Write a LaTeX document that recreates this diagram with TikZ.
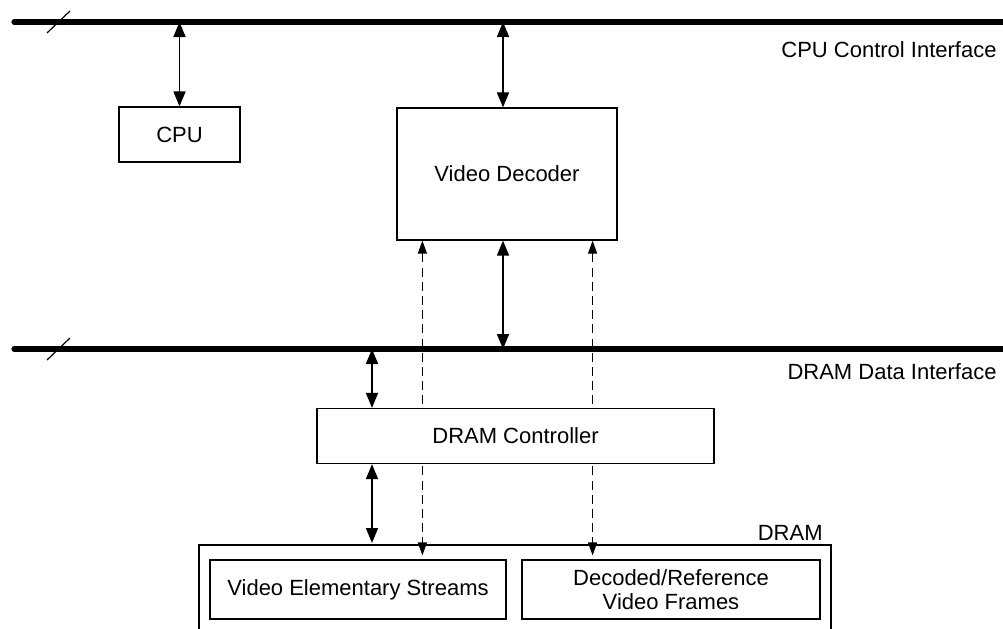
\documentclass[tikz,border=0pt]{standalone}
\usepackage{fontspec}
\setmainfont{Liberation Sans}
\usetikzlibrary{arrows.meta,positioning,calc,backgrounds}
\tikzset{
  unitbox/.style={
    rectangle, draw=black, fill=white, line width=0.6pt,
    font=\fontsize{11}{13}\selectfont, align=center, inner sep=0pt
  },
  busline/.style={line width=2.6pt, line cap=round},
  busslash/.style={line width=0.6pt},
  buslabel/.style={font=\fontsize{11}{13}\selectfont, anchor=east, inner sep=0pt},
  linkarrow/.style={{Triangle[length=7.5pt,width=6pt]}-{Triangle[length=7.5pt,width=6pt]}, line width=0.85pt},
  dasharrow/.style={{Triangle[length=6.5pt,width=4.5pt]}-{Triangle[length=6.5pt,width=4.5pt]}, line width=0.6pt, dash pattern=on 4.5pt off 2.6pt},
}
\begin{document}
\begin{tikzpicture}[x=0.5pt, y=-0.5pt]
  \useasboundingbox (0,0) rectangle (1003,628);

  % Buses
  \coordinate (cbus w) at (14,22);
  \coordinate (cbus e) at (1010,22);
  \coordinate (dbus w) at (14,349);
  \coordinate (dbus e) at (1010,349);
  \draw[busline] (cbus w) -- (cbus e);
  \draw[busline] (dbus w) -- (dbus e);
  \draw[busslash] (47,33) -- (70,11);
  \draw[busslash] (47,360) -- (70,338);
  \node[buslabel] (cbuslabel) at (997,50) {CPU Control Interface};
  \node[buslabel] (dbuslabel) at (997,372) {DRAM Data Interface};

  % Blocks
  \node[unitbox, minimum width=60.5pt, minimum height=27.5pt] (cpu) at (179.5,134.5) {CPU};
  \node[unitbox, minimum width=110pt, minimum height=66pt] (vdec) at (507,174) {Video Decoder};
  \node[unitbox, minimum width=198.5pt, minimum height=27.5pt] (dramctl) at (515.5,436) {DRAM Controller};

  % DRAM
  \draw[line width=0.6pt] (199,660) |- (831,545) coordinate (dram ne) -- (831,660);
  \node[font=\fontsize{11}{13}\selectfont, anchor=south east, inner sep=0pt] (dramlabel)
    at ($(dram ne)+(-8,-4)$) {DRAM};
  \node[unitbox, minimum width=148pt, minimum height=29.5pt] (ves) at (358,589.5) {Video Elementary Streams};
  \node[unitbox, minimum width=149pt, minimum height=29.5pt] (frames) at (671,589.5)
    {Decoded/Reference\\[-1pt]Video Frames};

  % Arrows
  \draw[linkarrow] (cpu.north |- cbus w) -- (cpu.north);
  \coordinate (vdec top) at ($(vdec.north)+(-4,0)$);
  \coordinate (vdec bot) at ($(vdec.south)+(-4,0)$);
  \draw[linkarrow] (vdec top |- cbus w) -- (vdec top);
  \draw[linkarrow] (vdec bot) -- (vdec bot |- dbus w);
  \coordinate (ctl top) at (372,0);
  \draw[linkarrow] (ctl top |- dbus w) -- (ctl top |- dramctl.north);
  \draw[linkarrow] (ctl top |- dramctl.south) -- (372,543);

  % Dashed links, behind the controller
  \coordinate (dl top) at ($(vdec.south west)+(26,0)$);
  \coordinate (dr top) at ($(vdec.south east)+(-25,0)$);
  \begin{scope}[on background layer]
    \draw[dasharrow, shorten >=2pt] (dl top) -- (dl top |- ves.north);
    \draw[dasharrow, shorten >=2pt] (dr top) -- (dr top |- frames.north);
  \end{scope}
\end{tikzpicture}
\end{document}
